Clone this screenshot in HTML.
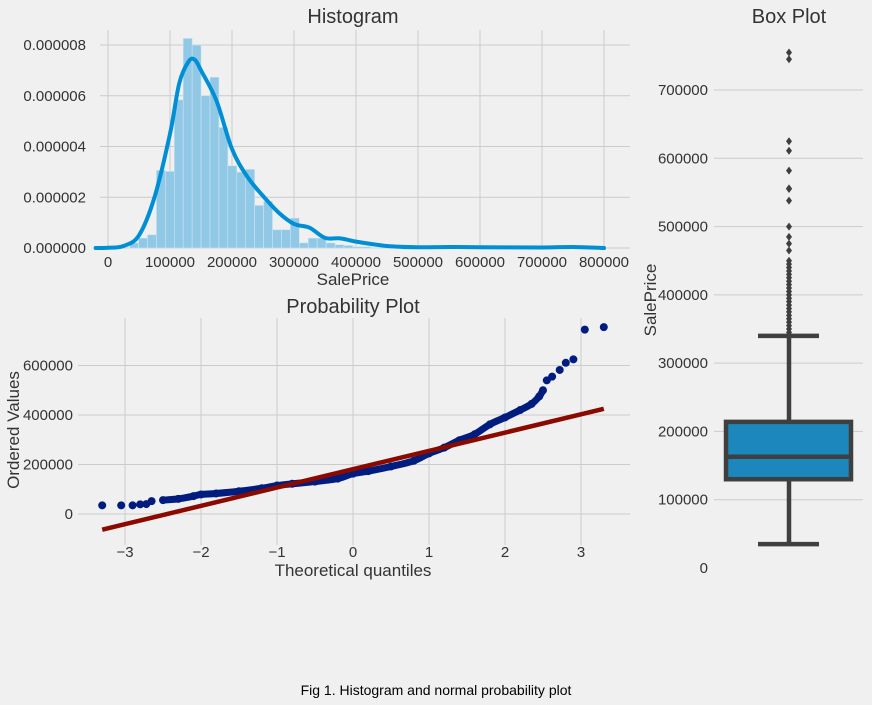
<!DOCTYPE html>
<html><head><meta charset="utf-8"><style>
html,body{margin:0;padding:0;background:#f0f0f0;}
svg{display:block;font-family:"Liberation Sans",Arial,sans-serif;}
</style></head><body>
<svg id="fig" width="872" height="705" viewBox="0 0 872 705" xmlns="http://www.w3.org/2000/svg">
<rect x="0" y="0" width="872" height="705" fill="#f0f0f0"/>
<g id="hist"></g>
<g id="prob"></g>
<g id="box"></g>
<text x="436" y="695" text-anchor="middle" font-size="14" fill="#000">Fig 1. Histogram and normal probability plot</text>
</svg>
<script>
// ---- Histogram data ----
const histBinStart = 34900;
const histBinWidth = 14402;
const histDensity = [0.2,0.39,0.52,3.06,3.02,5.84,8.26,8.0,6.0,6.73,4.75,3.24,2.99,3.1,1.68,1.84,0.72,0.72,1.18,0.2,0.39,0.39,0.2,0.13,0.1,0.05,0.05,0.02,0.02,0.02,0.02,0.02,0.02,0.02,0.02,0.03,0.02,0.02,0.02,0,0,0,0,0,0,0,0,0,0.02,0.02];
const kdeX = [-20000,0,25000,50000,75000,100000,115000,130000,140000,150000,175000,200000,225000,250000,275000,300000,325000,350000,375000,400000,450000,500000,550000,600000,700000,750000,800000];
const kdeY = [0,0.01,0.08,0.5,2.0,4.5,6.5,7.35,7.42,7.0,5.8,3.9,2.8,2.05,1.4,0.95,0.8,0.4,0.38,0.25,0.08,0.03,0.04,0.03,0.02,0.04,0.0];
const histXTicks = [0,100000,200000,300000,400000,500000,600000,700000,800000];
const histYTicks = [0,2,4,6,8];
const histYLabels = ["0.000000","0.000002","0.000004","0.000006","0.000008"];
// ---- Probability plot data ----
const probQ = [-3.3,-3.05,-2.9,-2.8,-2.72,-2.65,-2.5,-2.3,-2.1,-2.0,-1.8,-1.5,-1.2,-1.0,-0.8,-0.5,-0.2,0,0.2,0.5,0.8,1.0,1.2,1.4,1.6,1.8,2.0,2.2,2.35,2.45,2.5,2.55,2.62,2.72,2.8,2.9,3.05,3.3];
const probV = [35000,35000,35000,39000,40000,52000,56000,61000,72000,79000,83000,92000,104000,115000,122000,131000,143000,163000,173000,192000,215000,245000,268000,298000,322000,362000,390000,420000,445000,475000,500000,540000,555000,582000,611000,625000,745000,755000];
const fitSlope = 74000, fitIntercept = 180900, fitQ = [-3.3,3.3];
const probXTicks = [-3,-2,-1,0,1,2,3];
const probXLabels = ["\u22123","\u22122","\u22121","0","1","2","3"];
const probYTicks = [0,200000,400000,600000];
// ---- Box plot data ----
const boxStats = {min:34900,q1:130000,median:163000,q3:214000,max:340000};
const boxOutliers = [345000,350000,355000,360000,365000,370000,375000,380000,385000,390000,395000,400000,405000,410000,415000,420000,425000,430000,435000,440000,445000,450000,465000,475000,485000,500000,538000,555000,556000,582000,611000,625000,745000,755000];
const boxYTicks = [0,100000,200000,300000,400000,500000,600000,700000];

const NS="http://www.w3.org/2000/svg";
function mk(parent,tag,attrs,text){const e=document.createElementNS(NS,tag);for(const k in attrs)e.setAttribute(k,attrs[k]);if(text!==undefined)e.textContent=text;parent.appendChild(e);return e;}
function smooth(P){let d='M'+P[0][0]+','+P[0][1];for(let i=0;i<P.length-1;i++){const p0=P[Math.max(i-1,0)],p1=P[i],p2=P[i+1],p3=P[Math.min(i+2,P.length-1)];
d+=' C'+(p1[0]+(p2[0]-p0[0])/6)+','+(p1[1]+(p2[1]-p0[1])/6)+' '+(p2[0]-(p3[0]-p1[0])/6)+','+(p2[1]-(p3[1]-p1[1])/6)+' '+p2[0]+','+p2[1];}return d;}
const GRID="#cbcbcb", TXT="#333";

// Histogram
(function(){
const g=document.getElementById('hist');
const sx=v=>108+v*(604-108)/800000;
const sy=d=>248-d*(248-45)/8;
for(const t of histXTicks){const l=mk(g,'line',{x1:sx(t),x2:sx(t),y1:30,y2:248,stroke:GRID,'stroke-width':1});


const tx=mk(g,'text',{x:sx(t),y:267,'text-anchor':'middle','font-size':15,fill:TXT},String(t));

}
histYTicks.forEach((t,i)=>{const l=mk(g,'line',{x1:100,x2:630,y1:sy(t),y2:sy(t),stroke:GRID,'stroke-width':1});


const tx=mk(g,'text',{x:86,y:sy(t)+5,'text-anchor':'end','font-size':15,fill:TXT},histYLabels[i]);

});
histDensity.forEach((d,i)=>{const x0=sx(histBinStart+i*histBinWidth),x1=sx(histBinStart+(i+1)*histBinWidth);
const r=mk(g,'rect',{x:x0,y:sy(d),width:x1-x0,height:248-sy(d),fill:'#90c8e6',stroke:'#cde4f0','stroke-width':0.6});

});
const P=kdeX.map((x,i)=>[sx(x),sy(kdeY[i])]);
const p=mk(g,'path',{d:smooth(P),fill:'none',stroke:'#008fd5','stroke-width':4,'stroke-linejoin':'round','stroke-linecap':'round'});


const t1=mk(g,'text',{x:353,y:23,'text-anchor':'middle','font-size':20,fill:TXT},'Histogram');


const t2=mk(g,'text',{x:353,y:285,'text-anchor':'middle','font-size':17,fill:TXT},'SalePrice');


})();

// Probability plot
(function(){
const g=document.getElementById('prob');
const sx=q=>353+q*76;
const sy=v=>514-v*49.5/200000;
probXTicks.forEach((t,i)=>{const l=mk(g,'line',{x1:sx(t),x2:sx(t),y1:318,y2:545,stroke:GRID,'stroke-width':1});


const tx=mk(g,'text',{x:sx(t),y:557,'text-anchor':'middle','font-size':15,fill:TXT},probXLabels[i]);

});
probYTicks.forEach(t=>{const l=mk(g,'line',{x1:78,x2:630,y1:sy(t),y2:sy(t),stroke:GRID,'stroke-width':1});


const tx=mk(g,'text',{x:73,y:sy(t)+5,'text-anchor':'end','font-size':15,fill:TXT},String(t));

});
const P=probQ.map((q,i)=>[sx(q),sy(probV[i])]).slice(6,31);
const b=mk(g,'path',{d:smooth(P),fill:'none',stroke:'#001c7f','stroke-width':7,'stroke-linejoin':'round','stroke-linecap':'round'});


probQ.forEach((q,i)=>{const c=mk(g,'circle',{cx:sx(q),cy:sy(probV[i]),r:4,fill:'#001c7f'});

});
const fl=mk(g,'line',{x1:sx(fitQ[0]),y1:sy(fitIntercept+fitSlope*fitQ[0]),x2:sx(fitQ[1]),y2:sy(fitIntercept+fitSlope*fitQ[1]),stroke:'#8b0a00','stroke-width':4.5});


const t1=mk(g,'text',{x:353,y:313,'text-anchor':'middle','font-size':20,fill:TXT},'Probability Plot');


const t2=mk(g,'text',{x:353,y:576,'text-anchor':'middle','font-size':17,fill:TXT},'Theoretical quantiles');


const t3=mk(g,'text',{x:19,y:430,'text-anchor':'middle','font-size':17,fill:TXT,transform:'rotate(-90 19 430)'},'Ordered Values');


})();

// Box plot
(function(){
const g=document.getElementById('box');
const sy=v=>568-v*(568-90)/700000;
boxYTicks.forEach(t=>{if(t>0){const l=mk(g,'line',{x1:714,x2:863,y1:sy(t),y2:sy(t),stroke:GRID,'stroke-width':1});

}
const tx=mk(g,'text',{x:708,y:sy(t)+5,'text-anchor':'end','font-size':15,fill:TXT},String(t));

});
const cx=789, st='#3f3f3f';
const w=mk(g,'line',{x1:cx,x2:cx,y1:sy(boxStats.min),y2:sy(boxStats.max),stroke:st,'stroke-width':4.5});


[boxStats.min,boxStats.max].forEach(v=>{const c=mk(g,'line',{x1:758,x2:819,y1:sy(v),y2:sy(v),stroke:st,'stroke-width':4.5});

});
const r=mk(g,'rect',{x:726,y:sy(boxStats.q3),width:125,height:sy(boxStats.q1)-sy(boxStats.q3),fill:'#1b87bd',stroke:st,'stroke-width':4.5});


const m=mk(g,'line',{x1:726,x2:851,y1:sy(boxStats.median),y2:sy(boxStats.median),stroke:st,'stroke-width':4.5});


boxOutliers.forEach(v=>{const y=sy(v);const d=mk(g,'polygon',{points:`${cx},${y-4} ${cx+3},${y} ${cx},${y+4} ${cx-3},${y}`,fill:st});

});
const t1=mk(g,'text',{x:789,y:23,'text-anchor':'middle','font-size':20,fill:TXT},'Box Plot');


const t2=mk(g,'text',{x:656,y:300,'text-anchor':'middle','font-size':17,fill:TXT,transform:'rotate(-90 656 300)'},'SalePrice');


})();
</script>
</body></html>
